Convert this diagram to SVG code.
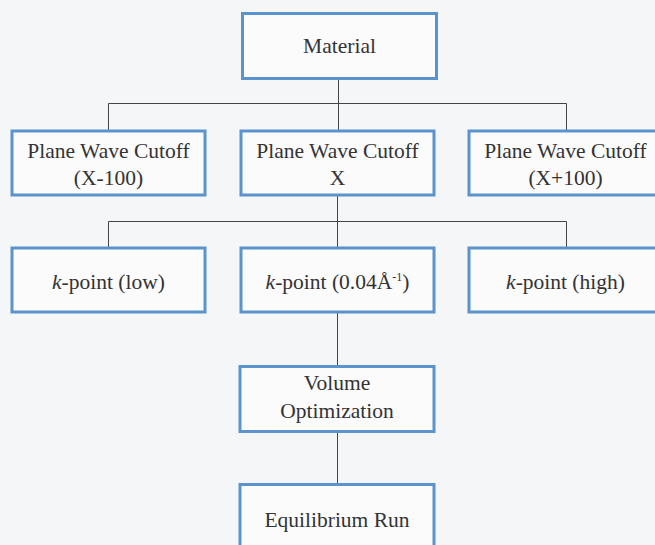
<svg xmlns="http://www.w3.org/2000/svg" width="655" height="545" viewBox="0 0 655 545">
<style>
.bg{fill:#f5f6f7}
.box{fill:#fbfbfb;stroke:#5b93cc;stroke-width:3}
.t{font-family:'Liberation Serif','Times New Roman','DejaVu Serif',serif;font-size:21.5px;fill:#333;text-anchor:middle}
.c{stroke:#444;stroke-width:1;fill:none}
</style>
<rect class="bg" x="0" y="0" width="655" height="545"/>
<g id="connectors">
<path class="c" d="M338.5 79 V103.5 M108.5 130 V103.5 H566.5 V130 M338.5 103.5 V130"/>
<path class="c" d="M337.5 195 V221.5 M108.5 248 V221.5 H566.5 V248 M337.5 221.5 V248"/>
<path class="c" d="M337.5 312 V366"/>
<path class="c" d="M337.5 432 V484"/>
</g>
<g id="material">
<rect class="box" x="242.5" y="13.5" width="194" height="65"/>
<text class="t" x="339.5" y="53">Material</text>
</g>
<g id="pw-low">
<rect class="box" x="12" y="131" width="193" height="64"/>
<text class="t" x="108.5" y="158">Plane Wave Cutoff</text>
<text class="t" x="108.5" y="185">(X-100)</text>
</g>
<g id="pw-x">
<rect class="box" x="241" y="131" width="193" height="64"/>
<text class="t" x="337.5" y="158">Plane Wave Cutoff</text>
<text class="t" x="337.5" y="185">X</text>
</g>
<g id="pw-high">
<rect class="box" x="469" y="131" width="193" height="64"/>
<text class="t" x="565.5" y="158">Plane Wave Cutoff</text>
<text class="t" x="565.5" y="185">(X+100)</text>
</g>
<g id="k-low">
<rect class="box" x="12" y="248" width="193" height="64"/>
<text class="t" x="108.5" y="289"><tspan font-style="italic">k</tspan>-point (low)</text>
</g>
<g id="k-mid">
<rect class="box" x="241" y="248" width="193" height="64"/>
<text class="t" x="337.5" y="289"><tspan font-style="italic">k</tspan>-point (0.04Å<tspan font-size="12" dy="-8">-1</tspan><tspan dy="8">)</tspan></text>
</g>
<g id="k-high">
<rect class="box" x="469" y="248" width="193" height="64"/>
<text class="t" x="565.5" y="289"><tspan font-style="italic">k</tspan>-point (high)</text>
</g>
<g id="volume">
<rect class="box" x="240" y="366.5" width="194" height="65"/>
<text class="t" x="337" y="390">Volume</text>
<text class="t" x="337" y="418">Optimization</text>
</g>
<g id="equilibrium">
<rect class="box" x="240" y="484.5" width="194" height="66"/>
<text class="t" x="337" y="527">Equilibrium Run</text>
</g>
</svg>
